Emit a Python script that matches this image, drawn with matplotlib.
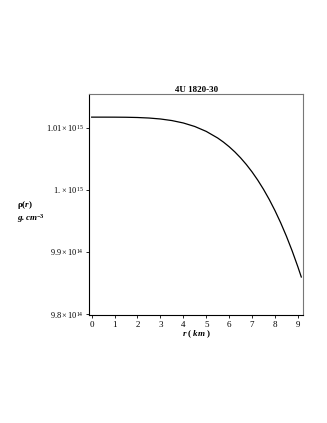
import matplotlib
matplotlib.use("Agg")
import matplotlib.pyplot as plt

plt.rcParams['font.family'] = ['Liberation Serif', 'DejaVu Serif']
plt.rcParams['mathtext.fontset'] = 'custom'
plt.rcParams['mathtext.rm'] = 'Liberation Serif'
plt.rcParams['mathtext.it'] = 'Liberation Serif:italic'
plt.rcParams['mathtext.bf'] = 'Liberation Serif:bold'
plt.rcParams['mathtext.bfit'] = 'Liberation Serif:italic:bold'

title = "4U 1820-30"
r_km = [0, 0.5, 1, 1.5, 2, 2.5, 3, 3.5, 4, 4.5, 5, 5.5, 5.75, 6, 6.25, 6.5, 6.75, 7,
        7.25, 7.5, 7.75, 8, 8.25, 8.5, 8.75, 9, 9.15]
rho = [1.01169e15, 1.01169e15, 1.011686e15, 1.011671e15, 1.011631e15, 1.011547e15,
       1.011393e15, 1.011139e15, 1.010751e15, 1.010185e15, 1.009396e15, 1.008332e15,
       1.007678e15, 1.006934e15, 1.006090e15, 1.005139e15, 1.004071e15, 1.002878e15,
       1.001550e15, 1.000078e15, 0.998450e15, 0.996658e15, 0.994689e15, 0.992532e15,
       0.990177e15, 0.987611e15, 0.985965e15]
xticks = [0, 1, 2, 3, 4, 5, 6, 7, 8, 9]
yticks = [9.8e14, 9.9e14, 1.0e15, 1.01e15]
ytick_labels = [r"$9.8\times10^{14}$", r"$9.9\times10^{14}$", r"$1.\times10^{15}$", r"$1.01\times10^{15}$"]

fig = plt.figure(figsize=(3.27, 4.23), dpi=100)
ax = fig.add_axes([0.273, 0.2553, 0.654, 0.5217])
ax.plot(r_km, rho, color='black', lw=0.9)
ax.set_xlim(-0.105, 9.23)
ax.set_ylim(9.7985e14, 1.01536e15)
ax.set_xticks(xticks)
ax.set_xticklabels([str(t) for t in xticks], fontsize=6.5)
ax.set_yticks(yticks)
ax.set_yticklabels(ytick_labels, fontsize=6)
ax.tick_params(direction='out', length=2.5, width=0.6, pad=1.5)
for s in ['left', 'bottom']:
    ax.spines[s].set_linewidth(0.8)
    ax.spines[s].set_color('black')
for s in ['right', 'top']:
    ax.spines[s].set_linewidth(0.8)
    ax.spines[s].set_color('#777777')
ax.set_title(title, fontsize=6.5, fontweight='bold', pad=2)
ax.set_xlabel(r"$\mathbfit{r}\ \mathbf{(}\ \mathbfit{km}\ \mathbf{)}$", fontsize=6.5, labelpad=0)
fig.text(17/327, 1 - 205/423, r"$\mathbf{\rho(}\mathbfit{r}\mathbf{)}$", fontsize=6.5, ha='left', va='center')
fig.text(17/327, 1 - 218/423, r"$\mathbfit{g.cm}^{\mathbf{-3}}$", fontsize=6.5, ha='left', va='center')
fig.savefig("out.png", dpi=100)
